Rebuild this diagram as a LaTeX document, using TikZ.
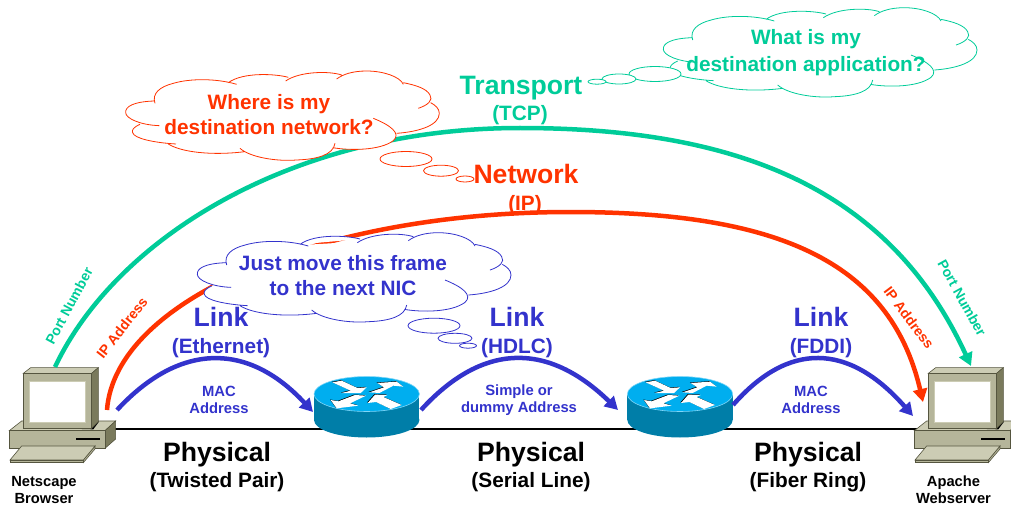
\documentclass[tikz,border=0pt]{standalone}
\usepackage{fontspec}
\setmainfont{Liberation Sans}
\usetikzlibrary{arrows.meta}

\definecolor{transportgreen}{RGB}{0,204,153}
\definecolor{networkred}{RGB}{255,51,0}
\definecolor{linkblue}{RGB}{51,51,204}
\definecolor{routertop}{RGB}{0,174,239}
\definecolor{routerside}{RGB}{0,126,168}
\definecolor{pcfront}{RGB}{181,181,154}
\definecolor{pctop}{RGB}{204,204,180}
\definecolor{pcside}{RGB}{122,122,92}
\definecolor{pcedge}{RGB}{85,85,63}

\tikzset{
    layertitle/.style={font=\fontsize{26.6}{28}\selectfont\bfseries},
    layernote/.style={font=\fontsize{20.8}{25}\selectfont\bfseries,align=center},
    smalllabel/.style={font=\fontsize{14.8}{17}\selectfont\bfseries,align=center},
    arclabel/.style={font=\fontsize{14}{17}\selectfont\bfseries},
    hostlabel/.style={font=\fontsize{14.7}{17.3}\selectfont\bfseries,align=center},
    protoarc/.style={line width=4.5pt,-{Triangle[length=13pt,width=14pt]}},
    physline/.style={line width=1.5pt,black},
    pcpart/.style={draw=pcedge,line width=0.6pt},
    % cloud outline, drawn in thirds of a pixel
    pics/thought/.style={code={
        \fill[white,x=0.3333pt,y=-0.3333pt] (135,100) -- (360,40) -- (530,30) -- (680,25) -- (880,40)
            -- (960,100) -- (860,190) -- (675,235) -- (390,240) -- (175,222) -- (90,165) -- cycle;
        \path[draw=#1,fill=white,line width=0.8pt,x=0.3333pt,y=-0.3333pt]
            (133,93) .. controls (70,95) and (45,110) .. (47,128) .. controls (47,145) and (90,165) .. (148,167)
            (90,163) .. controls (70,172) and (65,180) .. (68,188) .. controls (72,205) and (130,218) .. (198,222)
            (175,222) .. controls (210,245) and (300,258) .. (405,245)
            (390,235) .. controls (420,262) and (500,275) .. (560,270) .. controls (620,268) and (670,255) .. (675,220)
            (668,233) .. controls (720,242) and (810,242) .. (850,212) .. controls (875,190) and (840,165) .. (790,145)
            (860,190) .. controls (930,185) and (988,165) .. (988,130) .. controls (988,115) and (975,105) .. (962,98)
            (925,115) .. controls (955,105) and (970,90) .. (960,75) .. controls (950,55) and (915,45) .. (880,38)
            (880,43) .. controls (870,20) and (820,3) .. (770,3) .. controls (730,3) and (700,12) .. (680,27)
            (695,15) .. controls (660,3) and (570,3) .. (527,33)
            (535,22) .. controls (500,12) and (400,5) .. (355,38)
            (380,43) .. controls (320,25) and (240,25) .. (190,40) .. controls (150,50) and (125,70) .. (135,100);
    }},
    % desktop computer, also in thirds of a pixel
    pics/desktop/.style={code={
        \begin{scope}[x=0.3333pt,y=-0.3333pt]
            \filldraw[pcpart,fill=pctop] (28,272) -- (65,243) -- (347,243) -- (315,272) -- cycle;
            \filldraw[pcpart,fill=pcside] (315,272) -- (347,243) -- (347,297) -- (315,325) -- cycle;
            \filldraw[pcpart,fill=pcfront] (28,272) rectangle (315,325);
            \fill[black] (228,293) rectangle (300,299);
            \fill[black] (70,262) -- (280,268) -- (297,245) -- (275,240) -- cycle;
            \filldraw[pcpart,fill=pctop] (70,100) -- (92,83) -- (295,83) -- (275,100) -- cycle;
            \filldraw[pcpart,fill=pcside] (275,100) -- (295,83) -- (295,245) -- (275,265) -- cycle;
            \filldraw[pcpart,fill=pcfront] (70,100) rectangle (275,265);
            \filldraw[draw=pctop,line width=1pt,fill=white] (88,125) rectangle (257,247);
            \filldraw[pcpart,fill=pcfront] (250,360) -- (285,318) -- (285,327) -- (250,368) -- cycle;
            \filldraw[pcpart,fill=pcfront] (30,360) rectangle (250,368);
            \filldraw[pcpart,fill=pctop] (30,360) -- (65,318) -- (285,318) -- (250,360) -- cycle;
        \end{scope}
    }},
    % router puck centred on the top ellipse
    pics/routerpuck/.style={code={
        \fill[routerside] (0,26) ellipse (52.7pt and 17.5pt);
        \fill[routerside] (-52.7,0) rectangle (52.7,26);
        \filldraw[draw=routertop!50!white,line width=0.6pt,fill=routertop] (0,0) ellipse (52.7pt and 17.5pt);
        \begin{scope}[x=0.3333pt,y=-0.3333pt]
            \foreach \ox/\oy/\oc in {-0.7/0.5/black,0/0/white} {
                \fill[\oc,shift={(\ox pt,\oy pt)}] (-103,-35) -- (-75,-40) -- (-28,-18) -- (0,-20) -- (-18,-3) -- (-75,-3) -- (-48,-10) -- cycle;
                \fill[\oc,shift={(\ox pt,\oy pt)}] (8,-5) -- (52,-20) -- (32,-33) -- (90,-37) -- (110,-22) -- (80,-25) -- (38,-3) -- cycle;
                \fill[\oc,shift={(\ox pt,\oy pt)}] (-2,5) -- (-35,3) -- (-85,22) -- (-108,18) -- (-90,43) -- (-25,35) -- (-50,28) -- cycle;
                \fill[\oc,shift={(\ox pt,\oy pt)}] (3,27) -- (25,2) -- (62,3) -- (50,9) -- (105,33) -- (72,45) -- (28,24) -- cycle;
            }
        \end{scope}
    }},
}

\begin{document}
\begin{tikzpicture}[x=1pt,y=-1pt]
    \useasboundingbox (0,0) rectangle (1011,505);

    % Devices along the wire
    \coordinate (browser) at (60,429);
    \coordinate (routerA) at (366.7,429);
    \coordinate (routerB) at (680,429);
    \coordinate (webserver) at (965,429);
    \draw[physline] (browser) -- (routerA) -- (routerB) -- (webserver);
    \pic at (0,340) {desktop};
    \pic at (905,340) {desktop};
    \pic at (366.7,394) {routerpuck};
    \pic at (680,394) {routerpuck};

    % Ends of the arcs
    \coordinate (portA) at (55,367);
    \coordinate (portB) at (971,366);
    \coordinate (tcptop) at (520,128);
    \coordinate (ipA) at (107,410);
    \coordinate (ipB) at (923,402);
    \coordinate (iptop) at (570,212);
    \coordinate (macA) at (117,410);
    \coordinate (macB) at (313,412);
    \coordinate (hdlcA) at (421,410);
    \coordinate (hdlcB) at (618,410);
    \coordinate (fddiA) at (733,405);
    \coordinate (fddiB) at (913,416);

    \draw[protoarc,transportgreen] (portA) .. controls (115,240) and (290,128) .. (tcptop)
        .. controls (740,128) and (890,190) .. (portB);
    \draw[protoarc,networkred] (ipA) .. controls (115,300) and (320,212) .. (iptop)
        .. controls (775,212) and (890,260) .. (ipB);
    \draw[protoarc,linkblue] (macA) .. controls (180,342) and (248,342) .. (macB);
    \draw[protoarc,linkblue] (hdlcA) .. controls (483,342) and (548,342) .. (hdlcB);
    \draw[protoarc,linkblue] (fddiA) .. controls (788,342) and (848,342) .. (fddiB);

    % Thought clouds
    \pic at (110,70) {thought=networkred};
    \pic at (181.7,231.7) {thought=linkblue};
    \pic at (647.7,6.7) {thought=transportgreen};
    \foreach \cx/\cy/\rx/\ry/\cc in {406/159/26/7.5/networkred,441/170.7/17.5/5.5/networkred,465/179/9/3/networkred,
            434/325.7/26/7.5/linkblue,455/338.3/17/5/linkblue,468/345.7/8.5/2.5/linkblue,
            655/74/26/7.5/transportgreen,619/79/17/5/transportgreen,597/81.7/9/2.5/transportgreen} {
        \filldraw[draw=\cc,fill=white,line width=0.8pt] (\cx,\cy) ellipse (\rx pt and \ry pt);
    }
    \node[layernote,networkred] (askred) at (269,114.5) {Where is my\\destination network?};
    \node[layernote,linkblue] (askblue) at (343,275.5) {Just move this frame\\to the next NIC};
    \node[layernote,transportgreen] (askgreen) at (806,53) {What is my\\[2pt]destination application?};

    % Layer names
    \node[layertitle,transportgreen] (transport) at (521,88) {Transport};
    \node[layernote,transportgreen] (tcp) at (520,115) {(TCP)};
    \node[layertitle,networkred] (network) at (526,174) {Network};
    \node[layernote,networkred] (ip) at (525,205) {(IP)};
    \node[layertitle,linkblue] (linkA) at (221,317) {Link};
    \node[layernote,linkblue] (ethernet) at (221,348) {(Ethernet)};
    \node[layertitle,linkblue] (linkB) at (517,317) {Link};
    \node[layernote,linkblue] (hdlc) at (517,348) {(HDLC)};
    \node[layertitle,linkblue] (linkC) at (821,317) {Link};
    \node[layernote,linkblue] (fddi) at (821,348) {(FDDI)};
    \node[layertitle] (physA) at (217,455) {Physical};
    \node[layernote] (pair) at (217,482) {(Twisted Pair)};
    \node[layertitle] (physB) at (531,455) {Physical};
    \node[layernote] (serial) at (531,482) {(Serial Line)};
    \node[layertitle] (physC) at (808,455) {Physical};
    \node[layernote] (fiber) at (808,482) {(Fiber Ring)};

    % Labels on the arcs
    \node[smalllabel,linkblue] (macAddrA) at (219,400) {MAC\\Address};
    \node[smalllabel,linkblue] (dummyAddr) at (519,400) {Simple or\\dummy Address};
    \node[smalllabel,linkblue] (macAddrB) at (811,400) {MAC\\Address};
    \node[arclabel,transportgreen,rotate=62] (portLeft) at (69,306) {Port Number};
    \node[arclabel,transportgreen,rotate=-61] (portRight) at (962,298) {Port Number};
    \node[arclabel,networkred,rotate=52] (ipLeft) at (122,328) {IP Address};
    \node[arclabel,networkred,rotate=-53] (ipRight) at (909,318) {IP Address};

    % Hosts
    \node[hostlabel] (netscape) at (44,490) {Netscape\\Browser};
    \node[hostlabel] (apache) at (953.5,490) {Apache\\Webserver};
\end{tikzpicture}
\end{document}
